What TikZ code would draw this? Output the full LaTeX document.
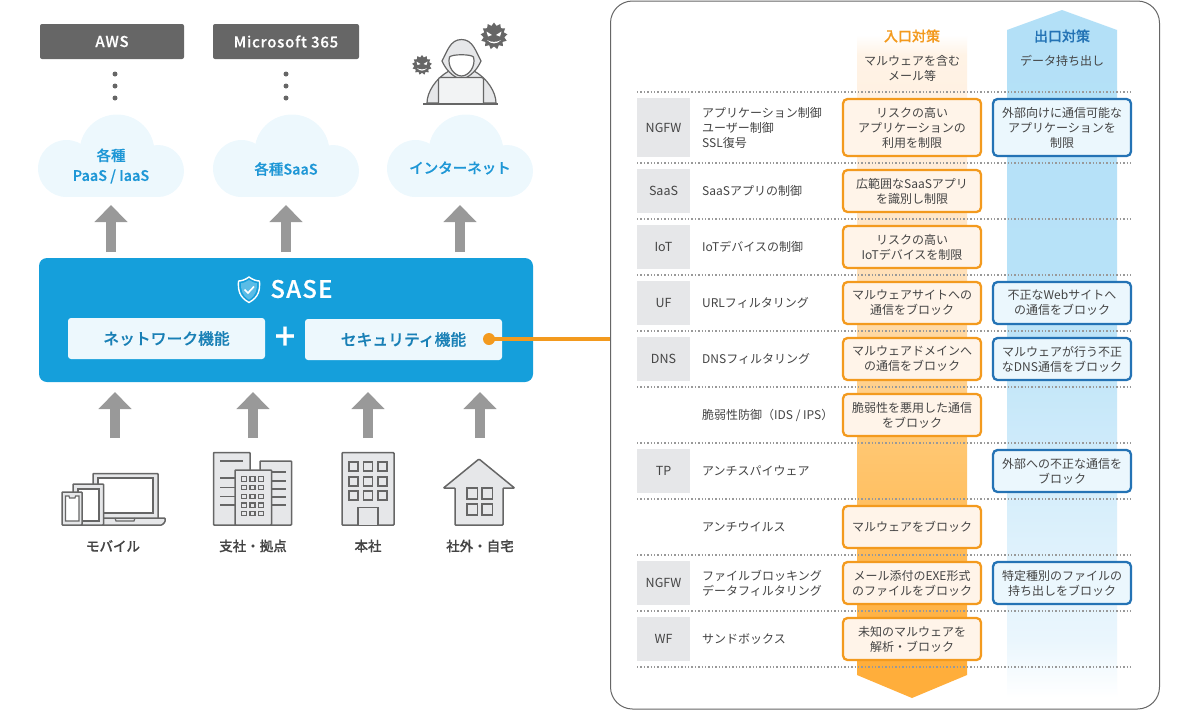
\documentclass[tikz,border=0pt]{standalone}
\usepackage{fontspec}
\setmainfont{Noto Sans CJK JP}[BoldFont={Noto Sans CJK JP Medium},BoldFeatures={FakeBold=0.35}]
\usetikzlibrary{arrows.meta,shapes.geometric}
\definecolor{cO}{HTML}{F39A1E}
\definecolor{cOf}{HTML}{FFF4E9}
\definecolor{cB}{HTML}{2473B5}
\definecolor{cBf}{HTML}{EBF7FD}
\definecolor{cSky}{HTML}{159FDB}
\definecolor{cCl}{HTML}{EDF8FD}
\definecolor{cTxt}{HTML}{444444}
\definecolor{cIcon}{HTML}{666666}
\definecolor{cIf}{HTML}{E6E7E9}
\definecolor{cArrow}{HTML}{999999}
\definecolor{cCtxt}{HTML}{1E97D6}
\definecolor{o1}{HTML}{FFAE3B}
\definecolor{o2}{HTML}{FFC670}
\definecolor{o3}{HTML}{FFDDB0}
\definecolor{o4}{HTML}{FFEEDD}
\definecolor{o5}{HTML}{FFF3E6}
\definecolor{b1}{HTML}{B3E0F7}
\definecolor{b2}{HTML}{B8E2F8}
\definecolor{b3}{HTML}{CFEBFA}
\definecolor{b4}{HTML}{E0F2FC}
\definecolor{b5}{HTML}{EAF6FD}
\pgfdeclareverticalshading{orangebandx}{100bp}{color(0bp)=(o1); color(25bp)=(o1); color(27.9bp)=(o1); color(43.7bp)=(o2); color(55bp)=(o3); color(66.3bp)=(o4); color(73.5bp)=(o5); color(75bp)=(white); color(100bp)=(white)}
\pgfdeclareverticalshading{blueband}{100bp}{color(0bp)=(white); color(25bp)=(white); color(29.2bp)=(b5); color(35bp)=(b4); color(43bp)=(b3); color(53.9bp)=(b2); color(75bp)=(b1); color(100bp)=(b1)}
\newcommand{\cloudat}[1]{%
  \begin{scope}[xshift=#1pt]
  \fill[cCl] (66.5,168.5) circle[radius=28.5];
  \fill[cCl] (117,152) circle[radius=37.5];
  \fill[cCl] (158,171) circle[radius=26];
  \fill[cCl] (66,165) rectangle (158,197);
  \end{scope}}
\tikzset{
  x=1pt,y=-1pt,
  darkbox/.style={fill=cIcon,rounded corners=2pt,text=white,font=\fontsize{15}{18}\selectfont\bfseries\addfontfeatures{LetterSpace=5},inner sep=0pt,minimum height=35pt},
  vdot/.style={circle,fill=cIcon,inner sep=0pt,minimum size=5pt},
  cloudtxt/.style={text=cCtxt,align=center,font=\fontsize{14.5}{20}\selectfont\bfseries,inner sep=0pt},
  bigarrow/.style={cArrow,line width=10pt,-{Triangle[width=32pt,length=17pt]}},
  funcbox/.style={fill=cCl,rounded corners=3pt,text=cCtxt!85!black,font=\fontsize{15.8}{18}\selectfont\bfseries,inner sep=0pt,minimum width=197pt,minimum height=41pt},
  icon/.style={draw=cIcon,line width=1.5pt,fill=cIf,rounded corners=0.8pt},
  iconw/.style={draw=cIcon,line width=1.2pt,fill=cIf},
  iconlab/.style={text=cTxt,font=\fontsize{13.5}{16}\selectfont\bfseries,inner sep=0pt},
  tagbox/.style={fill=cIf,text=cTxt,font=\fontsize{12.5}{15}\selectfont,inner sep=0pt,minimum width=53pt},
  rowlab/.style={anchor=west,text=cTxt,align=left,font=\fontsize{12}{15}\selectfont,inner sep=0pt},
  obox/.style={draw=cO,fill=cOf,line width=2.3pt,rounded corners=4.5pt,text=cTxt,align=center,font=\fontsize{12}{15}\selectfont,inner sep=0pt,minimum width=138pt},
  bluebox/.style={draw=cB,fill=cBf,line width=2.3pt,rounded corners=4.5pt,text=cTxt,align=center,font=\fontsize{12}{15}\selectfont,inner sep=0pt,minimum width=138pt},
  sepline/.style={draw=cArrow,line width=1.3pt,dash pattern=on 1.4pt off 2pt},
  headtxt/.style={text=cTxt,align=center,font=\fontsize{12}{15}\selectfont,inner sep=0pt},
}
\begin{document}
\begin{tikzpicture}
\useasboundingbox (0,0) rectangle (1200,710);
% right panel
\node[draw=cIcon,line width=1pt,fill=white,rounded corners=22pt,minimum width=549pt,minimum height=708pt,inner sep=0pt] (panel) at (885,355) {};
\path[shading=orangebandx] (857,35) -- (967,35) -- (967,675) -- (912,698) -- (857,675) -- cycle;
\path[shading=blueband] (1062,10) -- (1117,30) -- (1117,698) -- (1007,698) -- (1007,30) -- cycle;
\foreach \yy in {92,163,219,275,331,387,443,499,555,611,667}
  \draw[sepline] (637,\yy) -- (1132,\yy);
\node[text=cO,font=\fontsize{14}{16}\selectfont\bfseries,inner sep=0pt] (inhead) at (912,36) {入口対策};
\node[text=cB,font=\fontsize{14}{16}\selectfont\bfseries,inner sep=0pt] (outhead) at (1062,36) {出口対策};
\node[headtxt] (insub) at (912,68) {マルウェアを含む\\メール等};
\node[headtxt] (outsub) at (1062,61) {データ持ち出し};
% rows
\node[tagbox,minimum height=59pt] (t1) at (663.5,127.5) {NGFW};
\node[rowlab] (l1) at (702,127.5) {アプリケーション制御\\ユーザー制御\\SSL復号};
\node[obox,minimum height=57pt] (o1b) at (912,127.5) {リスクの高い\\アプリケーションの\\利用を制限};
\node[bluebox,minimum height=57pt] (b1b) at (1062,127.5) {外部向けに通信可能な\\アプリケーションを\\制限};
\node[tagbox,minimum height=44pt] (t2) at (663.5,191) {SaaS};
\node[rowlab] (l2) at (702,191) {SaaSアプリの制御};
\node[obox,minimum height=42pt] (o2b) at (912,191) {広範囲なSaaSアプリ\\を識別し制限};
\node[tagbox,minimum height=44pt] (t3) at (663.5,247) {IoT};
\node[rowlab] (l3) at (702,247) {IoTデバイスの制御};
\node[obox,minimum height=42pt] (o3b) at (912,247) {リスクの高い\\IoTデバイスを制限};
\node[tagbox,minimum height=44pt] (t4) at (663.5,303) {UF};
\node[rowlab] (l4) at (702,303) {URLフィルタリング};
\node[obox,minimum height=42pt] (o4b) at (912,303) {マルウェアサイトへの\\通信をブロック};
\node[bluebox,minimum height=42pt] (b4b) at (1062,303) {不正なWebサイトへ\\の通信をブロック};
\node[tagbox,minimum height=44pt] (t5) at (663.5,359) {DNS};
\node[rowlab] (l5) at (702,359) {DNSフィルタリング};
\node[obox,minimum height=42pt] (o5b) at (912,359) {マルウェアドメインへ\\の通信をブロック};
\node[bluebox,minimum height=42pt] (b5b) at (1062,359) {マルウェアが行う不正\\なDNS通信をブロック};
\node[rowlab] (l6) at (702,415) {脆弱性防御（IDS / IPS）};
\node[obox,minimum height=42pt] (o6b) at (912,415) {脆弱性を悪用した通信\\をブロック};
\node[tagbox,minimum height=44pt] (t7) at (663.5,471) {TP};
\node[rowlab] (l7) at (702,471) {アンチスパイウェア};
\node[bluebox,minimum height=42pt] (b7b) at (1062,471) {外部への不正な通信を\\ブロック};
\node[rowlab] (l8) at (702,527) {アンチウイルス};
\node[obox,minimum height=42pt] (o8b) at (912,527) {マルウェアをブロック};
\node[tagbox,minimum height=44pt] (t9) at (663.5,583) {NGFW};
\node[rowlab] (l9) at (702,583) {ファイルブロッキング\\データフィルタリング};
\node[obox,minimum height=42pt] (o9b) at (912,583) {メール添付のEXE形式\\のファイルをブロック};
\node[bluebox,minimum height=42pt] (b9b) at (1062,583) {特定種別のファイルの\\持ち出しをブロック};
\node[tagbox,minimum height=44pt] (t10) at (663.5,639) {WF};
\node[rowlab] (l10) at (702,639) {サンドボックス};
\node[obox,minimum height=42pt] (o10b) at (912,639) {未知のマルウェアを\\解析・ブロック};
% top services
\node[darkbox,minimum width=144pt] (aws) at (112,41.5) {AWS};
\node[darkbox,minimum width=146pt] (ms) at (286,41.5) {Microsoft 365};
\foreach \xx/\nn in {115/a,286/m}{
  \node[vdot] (d\nn1) at (\xx,74) {};
  \node[vdot] (d\nn2) at (\xx,86) {};
  \node[vdot] (d\nn3) at (\xx,98) {};
}
% hacker
\draw[iconw] (427,103) .. controls (427,92) and (436,78) .. (449,71) -- (474,71) .. controls (487,78) and (496,92) .. (496,103) -- cycle;
\draw[iconw] (461.5,39.5) .. controls (450,39.5) and (447,52) .. (442,61) .. controls (446,70) and (452,76) .. (461.5,80) .. controls (471,76) and (477,70) .. (481,61) .. controls (476,52) and (473,39.5) .. (461.5,39.5) -- cycle;
\draw[draw=cIcon,line width=1.2pt,fill=white] (449.5,57) .. controls (452,54) and (471,54) .. (473.5,57) .. controls (476,66) and (469,76) .. (461.5,76) .. controls (454,76) and (447,66) .. (449.5,57) -- cycle;
\draw[draw=cIcon,line width=1.2pt,fill=cIf!50!white,rounded corners=2pt] (438.5,104) -- (438.5,77.5) -- (483.5,77.5) -- (483.5,104);
\draw[cIcon,line width=2pt] (423,104) -- (498,104);
\node[star,star points=13,star point ratio=1.3,fill=cIcon,minimum size=27pt,inner sep=0pt] (germa) at (494,36) {};
\fill[white] (486.5,31.5) -- (492,35) -- (488,36.5) -- cycle (501.5,31.5) -- (496,35) -- (500,36.5) -- cycle;
\fill[white] (487,40) .. controls (490.5,44.5) and (497.5,44.5) .. (501,40) .. controls (497.5,42.5) and (490.5,42.5) .. (487,40) -- cycle;
\node[star,star points=13,star point ratio=1.3,fill=cIcon,minimum size=20pt,inner sep=0pt] (germb) at (422,65) {};
\fill[white] (416.5,61.5) -- (420.5,64) -- (417.5,65) -- cycle (427.5,61.5) -- (423.5,64) -- (426.5,65) -- cycle;
\fill[white] (417,68) .. controls (419.5,71.5) and (424.5,71.5) .. (427,68) .. controls (424.5,69.8) and (419.5,69.8) .. (417,68) -- cycle;
% clouds
\cloudat{0}
\cloudat{175}
\cloudat{349}
\node[cloudtxt] (c1) at (111,166) {各種\\PaaS / IaaS};
\node[cloudtxt] (c2) at (286,169) {各種SaaS};
\node[cloudtxt] (c3) at (460,168) {インターネット};
% SASE
\node[fill=cSky,rounded corners=8pt,minimum width=494pt,minimum height=124pt,inner sep=0pt] (sase) at (286,320) {};
\draw[white,line width=1.4pt,line join=round] (249,277) .. controls (245,280) and (241,281) .. (238.5,281) .. controls (238,290) and (239,297) .. (249,302.5) .. controls (259,297) and (260,290) .. (259.5,281) .. controls (257,281) and (253,280) .. (249,277) -- cycle;
\fill[white!30!cSky] (249,280) .. controls (246,282) and (243.5,283) .. (241,283.3) .. controls (241,290) and (242,295.5) .. (249,299.7) .. controls (256,295.5) and (257,290) .. (257,283.3) .. controls (254.5,283) and (252,282) .. (249,280) -- cycle;
\draw[white,line width=1.6pt] (244.5,289.5) -- (248,293) -- (254,286.5);
\node[text=white,font=\fontsize{24}{26}\selectfont\bfseries\addfontfeatures{LetterSpace=5},inner sep=0pt] (sasetxt) at (301.5,289) {SASE};
\node[funcbox] (net) at (166.5,338.5) {ネットワーク機能};
\node[funcbox] (sec) at (403.5,339.5) {セキュリティ機能};
\node[text=white,font=\fontsize{36}{36}\selectfont\bfseries,inner sep=0pt] (plus) at (285,338) {+};
\node[circle,fill=cO,inner sep=0pt,minimum size=12pt] (secdot) at (489,339) {};
\draw[cO,line width=3.6pt] (secdot.center) -- (secdot.center -| panel.west);
% arrows up to clouds
\foreach \xx/\nn in {111/u,286/v,460/w}{
  \coordinate (\nn s) at (\xx,252);
  \coordinate (\nn e) at (\xx,205);
  \draw[bigarrow] (\nn s) -- (\nn e);
}
\foreach \xx/\nn in {115/p,253/q,368/r,480/s}{
  \coordinate (\nn s) at (\xx,438);
  \coordinate (\nn e) at (\xx,392);
  \draw[bigarrow] (\nn s) -- (\nn e);
}
% mobile
\draw[icon] (93,518) -- (93,473.5) -- (158,473.5) -- (158,518);
\draw[draw=cIcon,line width=1.2pt,fill=white] (98,478) rectangle (153,513);
\draw[icon] (100,518) -- (165,518) -- (165,522) -- (162,525) -- (100,525) -- cycle;
\draw[draw=cIcon,line width=1.2pt] (115,518) -- (116,521) -- (134,521) -- (135,518);
\draw[icon] (73,484) rectangle (103.5,525);
\draw[draw=cIcon,line width=1.2pt,fill=white] (78,489) rectangle (99,521);
\draw[icon] (62,492) rectangle (82,525);
\draw[draw=cIcon,line width=1.2pt,fill=white] (65.5,496) -- (69,496) -- (69.5,498) -- (75,498) -- (75.5,496) -- (79,496) -- (79,521) -- (65.5,521) -- cycle;
% branch
\draw[icon] (213.5,452.5) rectangle (250,525);
\draw[icon] (260,461) rectangle (291.5,525);
\draw[cIcon,line width=1.2pt] (220,461) -- (243,461) (220,478) -- (235,478) (220,487.5) -- (235,487.5) (220,496.5) -- (235,496.5) (220,505) -- (235,505);
\foreach \yy in {472,481,489,497,505}
  \draw[cIcon,line width=1.2pt] (272,\yy) -- (286,\yy);
\draw[icon] (235,470) rectangle (271.5,525);
\foreach \xx in {241.7,250,258.3}
  \foreach \yy in {476.7,485.5,494.5,503,511.5}
    \draw[draw=cIcon,line width=1.1pt,fill=cIf] (\xx,\yy) rectangle ++(5,4.4);
% head office
\draw[icon] (342,452.7) rectangle (394,525);
\foreach \xx in {349,363.5,378}
  \foreach \yy in {462,477,491}
    \draw[draw=cIcon,line width=1.2pt,fill=cIf] (\xx,\yy) rectangle ++(9,9);
\draw[draw=cIcon,line width=1.2pt,fill=cIf] (358,525) -- (358,507.5) -- (378,507.5) -- (378,525);
% house
\draw[icon] (455,488) -- (443.5,488) -- (479,459) -- (514.5,488) -- (503,488) -- (503,525) -- (455,525) -- cycle;
\foreach \xx in {467,482}
  \foreach \yy in {488,504}
    \draw[draw=cIcon,line width=1.2pt,fill=cIf] (\xx,\yy) rectangle ++(10.5,11);
\node[iconlab] (m1) at (113,546) {モバイル};
\node[iconlab] (m2) at (253,546) {支社・拠点};
\node[iconlab] (m3) at (368,546) {本社};
\node[iconlab] (m4) at (480,546) {社外・自宅};
\end{tikzpicture}
\end{document}
